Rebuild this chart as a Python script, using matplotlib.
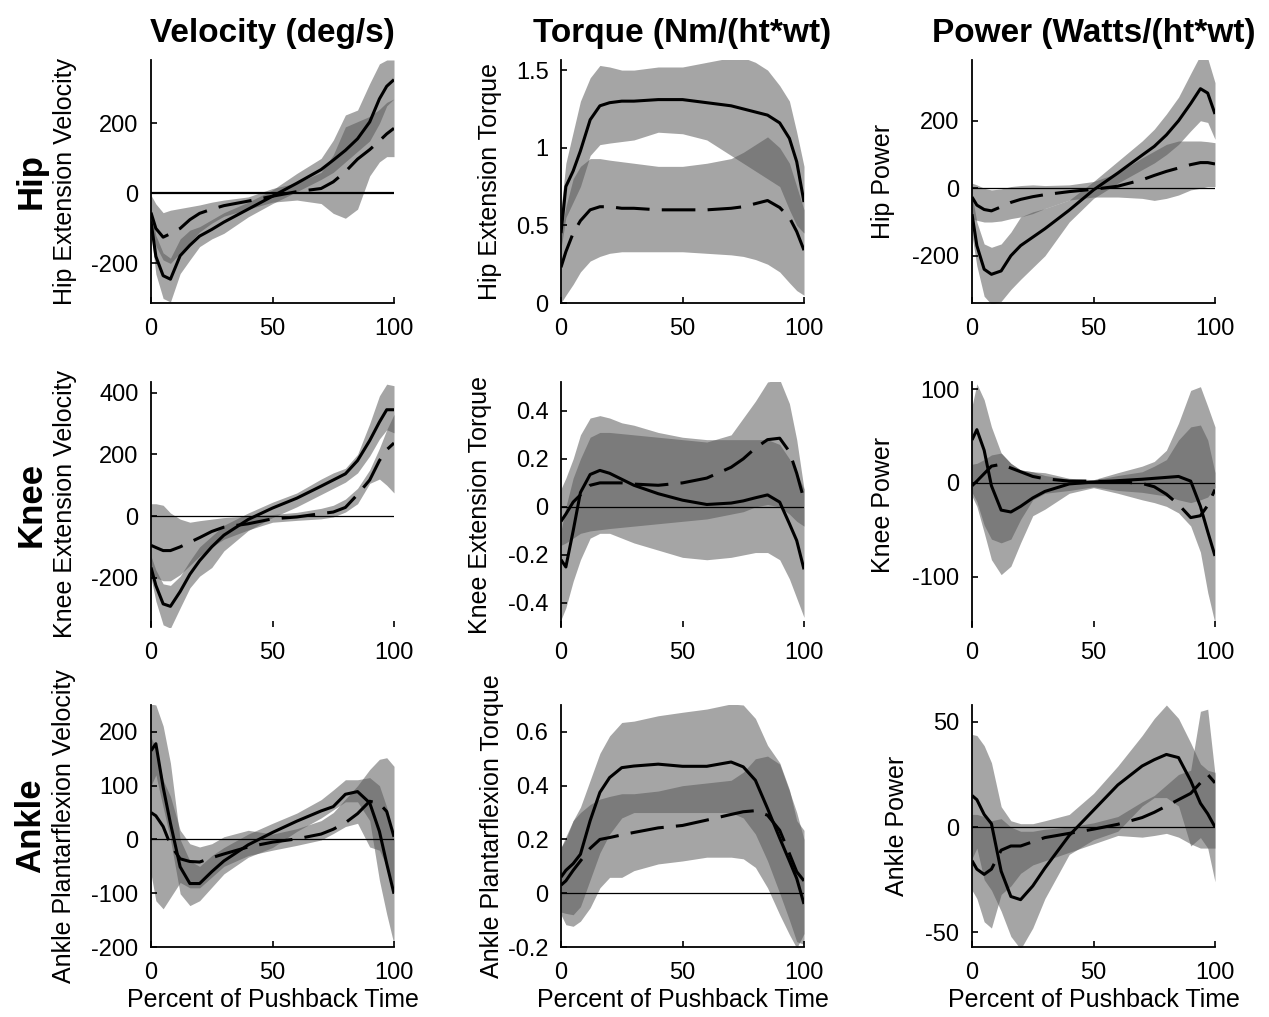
import matplotlib
matplotlib.use('Agg')
import matplotlib.pyplot as plt

plt.rcParams['font.family'] = ['Liberation Sans', 'DejaVu Sans']
plt.rcParams['axes.unicode_minus'] = False

X = [0, 2, 5, 8, 12, 16, 20, 25, 30, 40, 50, 60, 70, 75, 80, 85, 90, 94, 97, 100]

# ---- hip ----
hip_vel_s = [-80, -180, -235, -245, -178, -148, -122, -103, -82, -45, -8, 29, 68, 95, 123, 156, 204, 270, 306, 325]
hip_vel_s_lo = [-110, -230, -300, -310, -229, -190, -152, -130, -114, -67, -29, 5, 40, 60, 90, 120, 150, 200, 250, 270]
hip_vel_s_hi = [-40, -120, -170, -185, -130, -105, -95, -75, -55, -25, 10, 57, 100, 152, 224, 238, 314, 370, 381, 381]
hip_vel_d = [-55, -100, -125, -115, -100, -75, -57, -45, -35, -22, -8, 5, 14, 33, 62, 98, 125, 150, 170, 186]
hip_vel_d_lo = [-100, -150, -190, -200, -170, -140, -110, -85, -65, -45, -25, -19, -29, -57, -71, -45, 50, 90, 105, 105]
hip_vel_d_hi = [-5, -30, -55, -48, -43, -38, -33, -25, -19, -10, 14, 30, 60, 110, 190, 205, 220, 240, 260, 270]

hip_tq_s = [0.45, 0.75, 0.85, 0.98, 1.18, 1.27, 1.29, 1.30, 1.30, 1.31, 1.31, 1.29, 1.27, 1.25, 1.23, 1.21, 1.16, 1.06, 0.91, 0.65]
hip_tq_s_lo = [0.35, 0.55, 0.65, 0.75, 0.95, 1.02, 1.03, 1.04, 1.05, 1.1, 1.09, 1.05, 0.95, 0.9, 0.85, 0.8, 0.75, 0.6, 0.5, 0.45]
hip_tq_s_hi = [0.6, 0.9, 1.1, 1.3, 1.45, 1.53, 1.52, 1.5, 1.5, 1.52, 1.52, 1.55, 1.58, 1.58, 1.55, 1.5, 1.4, 1.3, 1.1, 0.88]
hip_tq_d = [0.23, 0.33, 0.45, 0.53, 0.60, 0.62, 0.62, 0.61, 0.61, 0.60, 0.60, 0.60, 0.61, 0.62, 0.64, 0.66, 0.615, 0.55, 0.46, 0.34]
hip_tq_d_lo = [0.0, 0.05, 0.12, 0.2, 0.27, 0.3, 0.32, 0.33, 0.33, 0.33, 0.33, 0.32, 0.31, 0.3, 0.28, 0.25, 0.2, 0.13, 0.08, 0.05]
hip_tq_d_hi = [0.45, 0.62, 0.8, 0.88, 0.93, 0.93, 0.92, 0.91, 0.9, 0.88, 0.88, 0.9, 0.93, 0.97, 1.02, 1.07, 1.0, 0.9, 0.75, 0.6]

hip_pw_s = [-77, -170, -240, -255, -245, -200, -170, -145, -120, -65, -5, 45, 98, 124, 158, 200, 251, 295, 282, 220]
hip_pw_s_lo = [-140, -230, -320, -344, -335, -300, -270, -235, -200, -100, -30, 15, 55, 75, 100, 130, 170, 200, 195, 145]
hip_pw_s_hi = [-20, -100, -165, -175, -165, -130, -85, -70, -60, -35, 20, 80, 140, 175, 220, 270, 340, 395, 385, 313]
hip_pw_d = [-26, -50, -63, -67, -55, -42, -33, -25, -19, -10, -3, 6, 25, 38, 50, 60, 70, 76, 76, 72]
hip_pw_d_lo = [-90, -95, -100, -100, -97, -90, -85, -75, -60, -35, -26, -26, -30, -36, -30, -20, -5, 0, 5, 5]
hip_pw_d_hi = [15, 10, 0, -5, -2, 5, 8, 10, 8, 10, 20, 45, 90, 110, 130, 140, 140, 140, 138, 135]

# ---- knee ----
knee_vel_s = [-167, -225, -285, -293, -245, -189, -145, -100, -62, -11, 26, 58, 97, 117, 137, 180, 245, 305, 345, 345]
knee_vel_s_lo = [-200, -276, -353, -364, -298, -233, -195, -167, -113, -47, -5, 30, 70, 90, 110, 140, 195, 250, 280, 270]
knee_vel_s_hi = [-130, -175, -220, -225, -195, -145, -100, -65, -30, 10, 45, 75, 120, 140, 155, 200, 300, 390, 428, 423]
knee_vel_d = [-95, -102, -112, -112, -100, -85, -70, -50, -36, -25, -9, -3, 8, 13, 28, 70, 117, 180, 215, 237]
knee_vel_d_lo = [-190, -200, -210, -210, -190, -160, -130, -100, -75, -45, -20, -14, -9, -3, 13, 40, 106, 120, 100, 75]
knee_vel_d_hi = [40, 40, 35, 10, -10, -20, -15, -10, -5, 0, 5, 12, 25, 35, 55, 90, 150, 220, 280, 330]

knee_tq_s = [-0.22, -0.25, -0.10, 0.06, 0.135, 0.152, 0.14, 0.115, 0.09, 0.055, 0.028, 0.01, 0.016, 0.025, 0.038, 0.05, 0.02, -0.07, -0.14, -0.26]
knee_tq_s_lo = [-0.47, -0.42, -0.31, -0.22, -0.13, -0.11, -0.11, -0.13, -0.15, -0.18, -0.21, -0.22, -0.21, -0.2, -0.19, -0.19, -0.22, -0.3, -0.38, -0.46]
knee_tq_s_hi = [0.075, 0.12, 0.2, 0.3, 0.37, 0.38, 0.37, 0.35, 0.34, 0.31, 0.29, 0.28, 0.28, 0.28, 0.28, 0.28, 0.26, 0.2, 0.14, 0.075]
knee_tq_d = [-0.06, -0.03, 0.02, 0.05, 0.09, 0.1, 0.1, 0.1, 0.095, 0.09, 0.1, 0.12, 0.165, 0.2, 0.245, 0.28, 0.286, 0.23, 0.14, 0.03]
knee_tq_d_lo = [-0.16, -0.15, -0.13, -0.11, -0.1, -0.095, -0.09, -0.085, -0.08, -0.07, -0.06, -0.05, -0.03, -0.02, 0.0, 0.01, 0.0, -0.03, -0.06, -0.08]
knee_tq_d_hi = [-0.1, 0.0, 0.12, 0.2, 0.29, 0.31, 0.31, 0.305, 0.3, 0.29, 0.28, 0.27, 0.3, 0.37, 0.44, 0.52, 0.53, 0.43, 0.28, 0.075]

knee_pw_s = [46, 57, 35, -3, -29, -31, -25, -16, -9, -1, 1, 2.5, 4, 5, 6, 7, 2, -25, -52, -78]
knee_pw_s_lo = [-14, -25, -53, -82, -98, -89, -64, -35, -28, -11, -5, -11, -18, -21, -25, -32, -46, -74, -117, -150]
knee_pw_s_hi = [82, 106, 89, 60, 32, 21, 14, 12, 11, 5, 3.5, 11, 18, 23, 35, 64, 99, 103, 82, 60]
knee_pw_d = [-3, 2, 10, 18, 20, 16, 12, 7, 4.5, 2, 2, 1.5, -0.5, -4, -12, -23, -37, -35, -24, -7]
knee_pw_d_lo = [-10, -20, -45, -60, -64, -60, -39, -18, -11, -8, -4, -8, -10, -12, -14, -18, -21, -18, -15, -5]
knee_pw_d_hi = [20, 21, 25, 30, 32, 21, 14, 12, 8, 4, 3, 8, 12, 18, 25, 46, 60, 62, 46, 11]

# ---- ankle ----
ankle_vel_s = [165, 178, 97, 30, -51, -82, -82, -60, -40, -10, 13, 34, 53, 61, 84, 89, 68, 15, -45, -101]
ankle_vel_s_lo = [100, 120, 60, 0, -101, -123, -114, -89, -64, -33, -15, 15, 40, 55, 70, 70, 35, -76, -139, -195]
ankle_vel_s_hi = [252, 250, 211, 142, 0, -40, -50, -30, -15, 10, 30, 49, 74, 92, 111, 111, 115, 100, 60, 0]
ankle_vel_d = [50, 44, 24, -10, -36, -41, -42, -34, -27, -14, -5, 1, 10, 19, 31, 48, 71, 67, 52, 5]
ankle_vel_d_lo = [-64, -114, -129, -108, -80, -90, -90, -70, -50, -30, -20, -11, -1, 11, 24, 30, -14, -20, -50, -100]
ankle_vel_d_hi = [190, 170, 110, 80, 17, -8, -14, -8, 5, 17, 10, 20, 35, 50, 75, 100, 130, 149, 152, 136]

ankle_tq_s = [0.06, 0.085, 0.11, 0.145, 0.27, 0.375, 0.43, 0.467, 0.473, 0.48, 0.472, 0.472, 0.488, 0.47, 0.42, 0.315, 0.205, 0.12, 0.055, -0.04]
ankle_tq_s_lo = [-0.07, -0.075, -0.08, -0.05, 0.05, 0.15, 0.22, 0.28, 0.3, 0.3, 0.3, 0.3, 0.3, 0.28, 0.22, 0.12, 0.0, -0.1, -0.18, -0.19]
ankle_tq_s_hi = [0.17, 0.21, 0.27, 0.32, 0.42, 0.52, 0.585, 0.635, 0.64, 0.66, 0.673, 0.685, 0.704, 0.70, 0.65, 0.55, 0.485, 0.385, 0.27, 0.234]
ankle_tq_d = [0.03, 0.046, 0.085, 0.12, 0.167, 0.2, 0.207, 0.217, 0.226, 0.243, 0.252, 0.272, 0.293, 0.303, 0.307, 0.29, 0.234, 0.147, 0.08, 0.046]
ankle_tq_d_lo = [-0.08, -0.117, -0.123, -0.104, -0.054, 0.02, 0.059, 0.059, 0.084, 0.109, 0.12, 0.134, 0.134, 0.128, 0.096, 0.02, -0.08, -0.154, -0.204, -0.15]
ankle_tq_d_hi = [0.17, 0.2, 0.27, 0.3, 0.33, 0.35, 0.36, 0.37, 0.37, 0.38, 0.4, 0.41, 0.42, 0.45, 0.5, 0.51, 0.48, 0.38, 0.3, 0.2]

ankle_pw_s = [15, 13, 6, 1.6, -21, -33, -34.5, -28, -19.5, -4, 8, 20, 29, 32, 34.5, 33, 22, 11.3, 6.3, 0]
ankle_pw_s_lo = [-15, -10, -25, -30, -40, -52, -58, -48, -34, -13, -6, -2, 10, 14, 14, 10, -9, -5, -10, -26]
ankle_pw_s_hi = [44, 43.5, 38.7, 30.6, 9.7, 3, 1.6, 1.6, 3, 6, 16, 29, 43.5, 51.6, 58, 51.6, 40, 30, 27, 26]
ankle_pw_d = [-16, -20, -22.5, -20, -11, -9, -9, -7, -5, -3, -1, 1.3, 4.5, 7, 10, 13, 16, 21, 25, 21]
ankle_pw_d_lo = [-30, -34, -45, -48, -32, -28, -22, -18, -16, -12, -8, -4, -4.8, -4, -3, -4.8, -8, -10, -10, -10]
ankle_pw_d_hi = [6, 6, 5, 3, 4, 0, -2, -2, -1, 0, 2, 5, 12, 15, 20, 25, 27, 55, 56, 25]

col_titles = ['Velocity (deg/s)', 'Torque (Nm/(ht*wt)', 'Power (Watts/(ht*wt)']
row_names = ['Hip', 'Knee', 'Ankle']
ylabels = [['Hip Extension Velocity', 'Hip Extension Torque', 'Hip Power'],
           ['Knee Extension Velocity', 'Knee Extension Torque', 'Knee Power'],
           ['Ankle Plantarflexion Velocity', 'Ankle Plantarflexion Torque', 'Ankle Power']]

yticks = [[[-200, 0, 200], [0, 0.5, 1, 1.5], [-200, 0, 200]],
          [[-200, 0, 200, 400], [-0.4, -0.2, 0, 0.2, 0.4], [-100, 0, 100]],
          [[-200, -100, 0, 100, 200], [-0.2, 0, 0.2, 0.4, 0.6], [-50, 0, 50]]]
ytick_labels = [[['-200', '0', '200'], ['0', '0.5', '1', '1.5'], ['-200', '0', '200']],
                [['-200', '0', '200', '400'], ['-0.4', '-0.2', '0', '0.2', '0.4'], ['-100', '0', '100']],
                [['-200', '-100', '0', '100', '200'], ['-0.2', '0', '0.2', '0.4', '0.6'], ['-50', '0', '50']]]
ylims = [[(-313, 381), (0, 1.565), (-340, 380)],
         [(-360, 435), (-0.5, 0.52), (-154, 108)],
         [(-200, 250), (-0.2, 0.7), (-57, 58)]]

curves = [[(hip_vel_s, hip_vel_s_lo, hip_vel_s_hi, hip_vel_d, hip_vel_d_lo, hip_vel_d_hi),
           (hip_tq_s, hip_tq_s_lo, hip_tq_s_hi, hip_tq_d, hip_tq_d_lo, hip_tq_d_hi),
           (hip_pw_s, hip_pw_s_lo, hip_pw_s_hi, hip_pw_d, hip_pw_d_lo, hip_pw_d_hi)],
          [(knee_vel_s, knee_vel_s_lo, knee_vel_s_hi, knee_vel_d, knee_vel_d_lo, knee_vel_d_hi),
           (knee_tq_s, knee_tq_s_lo, knee_tq_s_hi, knee_tq_d, knee_tq_d_lo, knee_tq_d_hi),
           (knee_pw_s, knee_pw_s_lo, knee_pw_s_hi, knee_pw_d, knee_pw_d_lo, knee_pw_d_hi)],
          [(ankle_vel_s, ankle_vel_s_lo, ankle_vel_s_hi, ankle_vel_d, ankle_vel_d_lo, ankle_vel_d_hi),
           (ankle_tq_s, ankle_tq_s_lo, ankle_tq_s_hi, ankle_tq_d, ankle_tq_d_lo, ankle_tq_d_hi),
           (ankle_pw_s, ankle_pw_s_lo, ankle_pw_s_hi, ankle_pw_d, ankle_pw_d_lo, ankle_pw_d_hi)]]

W, H = 1269, 1017
fig = plt.figure(figsize=(W / 100, H / 100), dpi=100)

col_left = [151, 561, 972]
col_width = 243
row_top = [60, 382, 705]
row_bottom = [303, 627, 947]
ylabel_x = [[65, 490, 883], [65, 480, 883], [64, 492, 897]]

BAND = '#565656'
ALPHA = 0.53

for r in range(3):
    for c in range(3):
        left = col_left[c] / W
        bottom = 1 - row_bottom[r] / H
        height = (row_bottom[r] - row_top[r]) / H
        ax = fig.add_axes([left, bottom, col_width / W, height])
        s, s_lo, s_hi, d, d_lo, d_hi = curves[r][c]

        ax.fill_between(X, s_lo, s_hi, color=BAND, alpha=ALPHA, lw=0)
        ax.fill_between(X, d_lo, d_hi, color=BAND, alpha=ALPHA, lw=0)
        if not (r == 0 and c == 1):
            ax.axhline(0, color='k', lw=1.6 if (r == 0 and c == 0) else 0.9)
        ax.plot(X, s, color='k', lw=2.2, solid_capstyle='butt')
        ax.plot(X, d, color='k', lw=2.2, dashes=(11, 4))

        ax.set_xlim(0, 100)
        ax.set_ylim(*ylims[r][c])
        ax.set_xticks([0, 50, 100])
        ax.set_xticklabels(['0', '50', '100'])
        ax.set_yticks(yticks[r][c])
        ax.set_yticklabels(ytick_labels[r][c])
        ax.tick_params(direction='in', length=4, width=1.2, labelsize=17)
        ax.tick_params(axis='x', pad=11)
        ax.tick_params(axis='y', pad=9)

        for side in ['top', 'right']:
            ax.spines[side].set_visible(False)
        ax.spines['left'].set_linewidth(1.3)
        ax.spines['bottom'].set_linewidth(1.3)
        if r == 1:
            ax.spines['bottom'].set_visible(False)
        ax.patch.set_alpha(0)

        ymid = 1 - (row_top[r] + row_bottom[r]) / 2 / H
        fig.text(ylabel_x[r][c] / W, ymid, ylabels[r][c], rotation=90,
                 ha='center', va='center', fontsize=18)

        if r == 0:
            fig.text(left + col_width / W / 2, 1 - 42 / H, col_titles[c],
                     ha='center', va='baseline', fontsize=24, fontweight='bold')
        if r == 2:
            fig.text(left + col_width / W / 2, 1 - 1007 / H, 'Percent of Pushback Time',
                     ha='center', va='baseline', fontsize=18)

    ymid = 1 - (row_top[r] + row_bottom[r]) / 2 / H
    fig.text(31 / W, ymid, row_names[r], rotation=90, ha='center', va='center',
             fontsize=25, fontweight='bold')

fig.savefig('out.png', dpi=100)
